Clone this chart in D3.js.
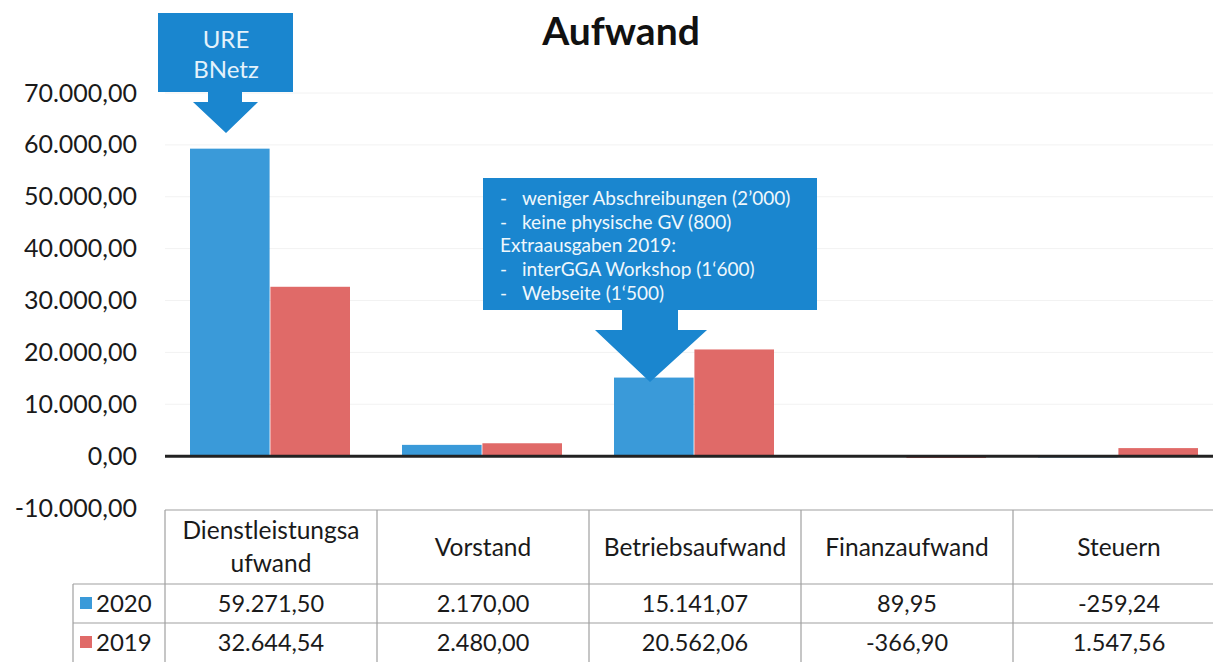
<!DOCTYPE html>
<html>
<head>
<meta charset="utf-8">
<script src="https://cdn.jsdelivr.net/npm/d3@7"></script>
<style>
  body { margin: 0; background: #fff; }
  svg { font-family: Lato, "Open Sans", sans-serif; }
</style>
</head>
<body>
<div id="chart"></div>
<script>
var categories = ["Dienstleistungsaufwand", "Vorstand", "Betriebsaufwand", "Finanzaufwand", "Steuern"];
var headerLines = [["Dienstleistungsa", "ufwand"], ["Vorstand"], ["Betriebsaufwand"], ["Finanzaufwand"], ["Steuern"]];
var seriesNames = ["2020", "2019"];
var values2020 = [59271.50, 2170.00, 15141.07, 89.95, -259.24];
var values2019 = [32644.54, 2480.00, 20562.06, -366.90, 1547.56];
var yTicks = [-10000, 0, 10000, 20000, 30000, 40000, 50000, 60000, 70000];
var callout1Lines = ["URE", "BNetz"];
var callout2Lines = [
  { dash: true, text: "weniger Abschreibungen (2\u2019000)" },
  { dash: true, text: "keine physische GV (800)" },
  { dash: false, text: "Extraausgaben 2019:" },
  { dash: true, text: "interGGA Workshop (1\u2018600)" },
  { dash: true, text: "Webseite (1\u2018500)" }
];

var colors = { "2020": "#3a9ad9", "2019": "#e06a68" };
var calloutBlue = "#1a86cf";

var svgWidth = 1213;
var svgHeight = 662;

var svg = d3.select("#chart")
  .append("svg")
  .attr("width", svgWidth)
  .attr("height", svgHeight);

var fmt = d3.formatLocale({ decimal: ",", thousands: ".", grouping: [3], currency: ["", ""], minus: "-" }).format(",.2f");

var seriesData = { "2020": values2020, "2019": values2019 };

// scales
var yScale = d3.scaleLinear()
  .domain([-10000, 70000])
  .range([508, 93]);

var xScale = d3.scaleBand()
  .domain(categories)
  .range([165, 1225]);

var x1 = d3.scaleBand()
  .domain(seriesNames)
  .range([25, 185])
  .paddingInner(0.01);

// faint gridlines
svg.append("g")
  .selectAll("line")
  .data(yTicks.filter(d => d !== 0 && d !== -10000))
  .enter()
  .append("line")
  .attr("x1", 165)
  .attr("x2", svgWidth)
  .attr("y1", d => yScale(d))
  .attr("y2", d => yScale(d))
  .attr("stroke", "#f2f2f2")
  .attr("stroke-width", 1);

// y axis labels
var yAxis = d3.axisLeft(yScale)
  .tickValues(yTicks)
  .tickFormat(fmt)
  .tickSize(0)
  .tickPadding(0);

var yAxisGroup = svg.append("g")
  .attr("transform", "translate(137,0)")
  .call(yAxis);
yAxisGroup.select(".domain").remove();
yAxisGroup.selectAll("text")
  .attr("font-size", 25)
  .attr("fill", "#1a1a1a")
  .attr("font-family", "Lato, sans-serif");

// bars
var groups = svg.append("g")
  .selectAll("g")
  .data(categories)
  .enter()
  .append("g")
  .attr("transform", d => `translate(${xScale(d)},0)`);

groups.selectAll("rect")
  .data((d, i) => seriesNames.map(s => ({ series: s, value: seriesData[s][i] })))
  .enter()
  .append("rect")
  .attr("x", d => x1(d.series))
  .attr("width", x1.bandwidth())
  .attr("y", d => yScale(Math.max(0, d.value)))
  .attr("height", d => Math.abs(yScale(d.value) - yScale(0)))
  .attr("fill", d => colors[d.series]);

// zero line
svg.append("line")
  .attr("x1", 165)
  .attr("x2", svgWidth)
  .attr("y1", yScale(0))
  .attr("y2", yScale(0))
  .attr("stroke", "#222")
  .attr("stroke-width", 3);

// title
svg.append("text")
  .attr("x", 621)
  .attr("y", 45)
  .attr("text-anchor", "middle")
  .attr("font-size", 39)
  .attr("font-weight", "bold")
  .attr("fill", "#111")
  .text("Aufwand");

// data table
var table = svg.append("g");
var rowTop = 510, rowHead = 584, row1 = 623, rowBottom = 662;
var gridColor = "#a0a0a0";

table.append("line").attr("x1", 165).attr("x2", svgWidth).attr("y1", rowTop).attr("y2", rowTop);
table.append("line").attr("x1", 73).attr("x2", svgWidth).attr("y1", rowHead).attr("y2", rowHead);
table.append("line").attr("x1", 73).attr("x2", svgWidth).attr("y1", row1).attr("y2", row1);
table.append("line").attr("x1", 73).attr("x2", 73).attr("y1", rowHead).attr("y2", rowBottom);
table.selectAll(".vline")
  .data(categories)
  .enter()
  .append("line")
  .attr("class", "vline")
  .attr("x1", d => xScale(d))
  .attr("x2", d => xScale(d))
  .attr("y1", rowTop)
  .attr("y2", rowBottom);
table.selectAll("line")
  .attr("stroke", gridColor)
  .attr("stroke-width", 1.2);

// header labels
table.selectAll(".head")
  .data(categories)
  .enter()
  .append("text")
  .attr("class", "head")
  .attr("text-anchor", "middle")
  .attr("font-size", 24.5)
  .attr("fill", "#1a1a1a")
  .each(function(d, i) {
    var lines = headerLines[i];
    var t = d3.select(this);
    var cx = xScale(d) + xScale.bandwidth() / 2;
    var startY = lines.length === 1 ? 556 : 539;
    lines.forEach(function(l, j) {
      t.append("tspan").attr("x", cx).attr("y", startY + j * 33).text(l);
    });
  });

// value rows
seriesNames.forEach(function(s, r) {
  var baseY = r === 0 ? 612 : 651;
  table.append("rect")
    .attr("x", 80)
    .attr("y", baseY - 15)
    .attr("width", 12)
    .attr("height", 12)
    .attr("fill", colors[s]);
  table.append("text")
    .attr("x", 96)
    .attr("y", baseY)
    .attr("font-size", 24)
    .attr("fill", "#1a1a1a")
    .text(s);
  table.selectAll(".val" + s)
    .data(seriesData[s])
    .enter()
    .append("text")
    .attr("x", (d, i) => xScale(categories[i]) + xScale.bandwidth() / 2)
    .attr("y", baseY)
    .attr("text-anchor", "middle")
    .attr("font-size", 23.5)
    .attr("fill", "#1a1a1a")
    .text(d => fmt(d));
});

// callout 1 (URE BNetz)
var c1 = svg.append("g");
c1.append("path")
  .attr("d", "M158,13 H293 V92 H242 V102 H258 L226,133 L193,102 H208 V92 H158 Z")
  .attr("fill", calloutBlue);
c1.selectAll("text")
  .data(callout1Lines)
  .enter()
  .append("text")
  .attr("x", 226)
  .attr("y", (d, i) => 48 + i * 30)
  .attr("text-anchor", "middle")
  .attr("font-size", 24)
  .attr("fill", "#e4f2fb")
  .text(d => d);

// callout 2 (Betriebsaufwand)
var c2 = svg.append("g");
c2.append("path")
  .attr("d", "M483,178 H817 V310 H678 V330 H707 L650,382 L595,330 H622 V310 H483 Z")
  .attr("fill", calloutBlue);
callout2Lines.forEach(function(l, i) {
  var y = 205 + i * 23.7;
  if (l.dash) {
    c2.append("text").attr("x", 500).attr("y", y).attr("font-size", 19).attr("fill", "#eef7fc").text("-");
    c2.append("text").attr("x", 522).attr("y", y).attr("font-size", 19).attr("fill", "#eef7fc").text(l.text);
  } else {
    c2.append("text").attr("x", 500).attr("y", y).attr("font-size", 19).attr("fill", "#eef7fc").text(l.text);
  }
});
</script>
</body>
</html>
